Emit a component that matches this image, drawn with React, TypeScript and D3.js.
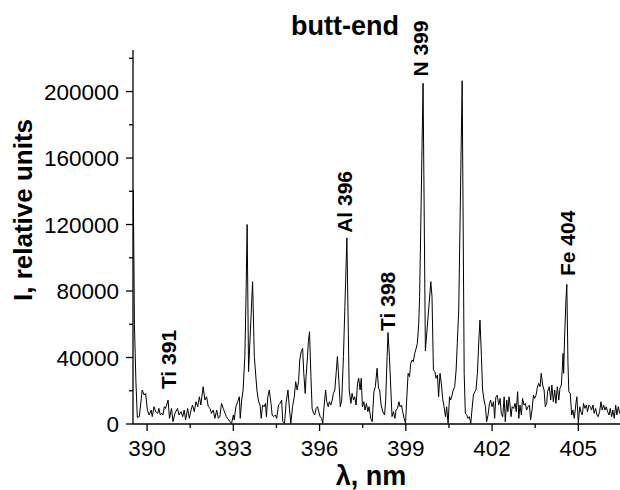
import React from "react";
import * as d3 from "d3";

const wavelength = [
  389.52, 389.56, 389.61, 389.66, 389.73, 389.83, 389.9, 389.95, 390.01, 390.07,
  390.14, 390.18, 390.24, 390.3, 390.37, 390.41, 390.46, 390.51, 390.55, 390.6,
  390.64, 390.73, 390.78, 390.85, 390.9, 390.97, 391.06, 391.11, 391.18, 391.24,
  391.29, 391.34, 391.41, 391.47, 391.53, 391.58, 391.64, 391.7, 391.76, 391.82,
  391.87, 391.95, 392.01, 392.07, 392.13, 392.19, 392.24, 392.3, 392.36, 392.42,
  392.48, 392.53, 392.59, 392.65, 392.71, 392.76, 392.88, 392.94, 393.0, 393.03,
  393.09, 393.15, 393.21, 393.24, 393.29, 393.34, 393.4, 393.44, 393.48, 393.53,
  393.67, 393.73, 393.82, 393.88, 393.93, 393.97, 394.02, 394.07, 394.12, 394.15,
  394.2, 394.25, 394.31, 394.35, 394.4, 394.46, 394.51, 394.57, 394.63, 394.68,
  394.72, 394.78, 394.84, 394.9, 394.95, 395.0, 395.06, 395.12, 395.17, 395.22,
  395.27, 395.31, 395.36, 395.41, 395.45, 395.5, 395.53, 395.58, 395.61, 395.65,
  395.7, 395.74, 395.79, 395.83, 395.88, 395.93, 395.97, 396.02, 396.07, 396.11,
  396.16, 396.21, 396.25, 396.3, 396.34, 396.39, 396.44, 396.48, 396.53, 396.58,
  396.62, 396.67, 396.72, 396.77, 396.83, 396.88, 396.95, 397.03, 397.09, 397.13,
  397.18, 397.22, 397.27, 397.32, 397.36, 397.41, 397.45, 397.49, 397.54, 397.58,
  397.63, 397.68, 397.72, 397.78, 397.83, 397.89, 397.94, 398.0, 398.05, 398.09,
  398.14, 398.2, 398.26, 398.3, 398.35, 398.38, 398.43, 398.48, 398.52, 398.57,
  398.62, 398.66, 398.71, 398.76, 398.8, 398.85, 398.89, 398.94, 398.99, 399.03,
  399.08, 399.13, 399.17, 399.22, 399.26, 399.31, 399.36, 399.4, 399.45, 399.48,
  399.6, 399.68, 399.87, 399.91, 399.96, 400.01, 400.05, 400.1, 400.14, 400.19,
  400.24, 400.28, 400.33, 400.38, 400.42, 400.47, 400.52, 400.56, 400.61, 400.65,
  400.7, 400.75, 400.79, 400.84, 400.96, 401.03, 401.07, 401.12, 401.16, 401.21,
  401.26, 401.3, 401.35, 401.4, 401.44, 401.49, 401.54, 401.58, 401.63, 401.67,
  401.72, 401.77, 401.81, 401.86, 401.91, 401.95, 402.0, 402.05, 402.09, 402.13,
  402.18, 402.23, 402.28, 402.32, 402.37, 402.42, 402.46, 402.51, 402.55, 402.59,
  402.62, 402.66, 402.7, 402.75, 402.8, 402.84, 402.89, 402.93, 402.97, 403.02,
  403.06, 403.11, 403.16, 403.2, 403.25, 403.3, 403.34, 403.39, 403.44, 403.48,
  403.53, 403.57, 403.62, 403.67, 403.71, 403.76, 403.81, 403.85, 403.9, 403.93,
  403.99, 404.04, 404.08, 404.13, 404.18, 404.22, 404.27, 404.32, 404.36, 404.41,
  404.44, 404.47, 404.49, 404.52, 404.57, 404.6, 404.64, 404.67, 404.72, 404.77,
  404.81, 404.86, 404.91, 404.95, 405.0, 405.05, 405.09, 405.14, 405.18, 405.23,
  405.28, 405.32, 405.37, 405.42, 405.46, 405.51, 405.55, 405.6, 405.65, 405.69,
  405.74, 405.79, 405.83, 405.88, 405.93, 405.97, 406.02, 406.07, 406.11, 406.16,
  406.2, 406.25, 406.3, 406.34, 406.39, 406.44, 406.48,
];

const intensity = [
  141000, 60000, 26000, 4000, 4400, 20450, 17400, 18400, 8400, 5400,
  8400, 4400, 10400, 7400, 6400, 9400, 5400, 6400, 5400, 10400,
  9400, 14400, 3400, 9400, 1400, 6400, 9400, 5400, 7400, 4400,
  8400, 2400, 9400, 3400, 8400, 11400, 7400, 13400, 10400, 16400,
  11400, 22450, 14400, 16400, 10400, 9400, 6400, 8400, 3400, 8400,
  3400, 4400, 12400, 9400, 6400, 4400, 1400, 400, 5400, 2400,
  10400, 13400, 16400, 3400, 14400, 20450, 40500, 75000, 120000, 31500,
  85600, 40500, 20450, 13400, 11400, 3400, 11400, 10400, 12400, 4400,
  16400, 20450, 12400, 5400, 4400, 5400, 3400, 11400, 12400, 14400,
  1400, 400, 13400, 20450, 9400, 400, 10400, 16400, 25500, 20450,
  25500, 38500, 43500, 45500, 30500, 18400, 28500, 40500, 49500, 55500,
  28500, 9400, 6400, 5400, 9400, 10400, 7400, 4400, 3400, 400,
  11400, 20450, 13400, 10400, 13400, 11400, 14400, 18400, 20450, 31500,
  40500, 26500, 10400, 14400, 40500, 70600, 112000, 20450, 12400, 18400,
  14400, 16400, 11400, 24450, 27500, 20450, 27500, 10400, 13400, 8400,
  12400, 7400, 10400, 3400, 1400, 19450, 22450, 33500, 21450, 20450,
  11400, 7400, 5400, 14400, 40500, 55000, 40500, 20450, 4400, 7400,
  3400, 8400, 9400, 13400, 10400, 11400, 7400, 3400, 400, 14400,
  30500, 28500, 36500, 38500, 37500, 42500, 45500, 48500, 60600, 76600,
  205000, 44000, 85600, 76600, 32500, 31500, 27500, 29500, 16400, 30500,
  23450, 15400, 10400, 4400, 10400, 400, 16400, 14400, 17400, 20450,
  22450, 32500, 48500, 68600, 206500, 30500, 6400, 5400, 3400, 4400,
  400, 8400, 17400, 19450, 20450, 30500, 50500, 62500, 40500, 20450,
  14400, 10400, 1400, 5400, 12400, 14400, 10400, 13400, 3400, 16000,
  17400, 11400, 15400, 6400, 4400, 16400, 1400, 14400, 7400, 16400,
  12400, 4400, 10400, 9400, 12400, 7400, 19450, 3400, 11400, 5400,
  15400, 11400, 12400, 8400, 10400, 11400, 2400, 8400, 17400, 15400,
  17400, 21450, 24450, 22450, 30500, 23450, 20450, 10400, 12400, 19450,
  22450, 14400, 23450, 13400, 20450, 12400, 22450, 14400, 21450, 23450,
  32500, 42500, 30500, 50500, 74600, 84000, 36500, 19450, 18400, 5400,
  8400, 3400, 11400, 16400, 400, 10400, 7400, 5400, 12400, 9400,
  11400, 7400, 11400, 10400, 8400, 11400, 6400, 9400, 5400, 4400,
  7400, 13400, 8400, 11400, 8400, 10400, 7400, 5400, 9400, 4400,
  8400, 3400, 11400, 5400, 10400, 6400, 8000,
];

const xTicks = [390, 393, 396, 399, 402, 405];
const xMinorTicks = [391.5, 394.5, 397.5, 400.5, 403.5];
const yTicks = [0, 40000, 80000, 120000, 160000, 200000];
const yMinorTicks = [20000, 60000, 100000, 140000, 180000, 220000];

const labelTexts = ["Ti 391", "Al 396", "Ti 398", "N 399", "Fe 404"];
const labelWavelengths = [391.02, 397.13, 398.63, 399.77, 404.88];
const labelIntensities = [21000, 115000, 56000, 209000, 89000];

const title = "butt-end";
const xTitle = "λ, nm";
const yTitle = "I, relative units";

const FONT = "'Liberation Sans', Arial, Helvetica, sans-serif";

export default function App() {
  const W = 620;
  const H = 490;
  const left = 133;
  const right = 620;
  const bottom = 424;
  const top = 50;

  const x = d3.scaleLinear().domain([389.51, 406.45]).range([left, right]);
  const y = d3.scaleLinear().domain([0, 225000]).range([bottom, top]);

  const pts: [number, number][] = wavelength.map((w, i) => [w, intensity[i]]);
  const line = d3
    .line<[number, number]>()
    .x((d) => x(d[0]))
    .y((d) => y(d[1]));

  return (
    <svg
      width={W}
      height={H}
      style={{ position: "absolute", left: 0, top: 0, background: "#fff" }}
      fontFamily={FONT}
    >
      <defs>
        <clipPath id="plotclip">
          <rect x={left} y={0} width={right - left} height={bottom + 1} />
        </clipPath>
      </defs>
      <rect x={0} y={0} width={W} height={H} fill="#fff" />

      <path
        d={line(pts) || ""}
        fill="none"
        stroke="#000"
        strokeWidth={1}
        clipPath="url(#plotclip)"
      />

      {/* Y axis */}
      <line x1={left} x2={left} y1={top} y2={bottom} stroke="#000" strokeWidth={1.3} />
      {yTicks.map((t) => (
        <g key={"yt" + t}>
          <line x1={left - 7} x2={left} y1={y(t)} y2={y(t)} stroke="#000" strokeWidth={1.3} />
          <text
            x={left - 14}
            y={y(t)}
            dy="0.36em"
            textAnchor="end"
            fontSize={22.5}
          >
            {t}
          </text>
        </g>
      ))}
      {yMinorTicks.map((t) => (
        <line key={"ym" + t} x1={left - 4} x2={left} y1={y(t)} y2={y(t)} stroke="#000" strokeWidth={1.3} />
      ))}

      {/* X axis */}
      <line x1={left} x2={right} y1={bottom} y2={bottom} stroke="#000" strokeWidth={1.3} />
      {xTicks.map((t) => (
        <g key={"xt" + t}>
          <line x1={x(t)} x2={x(t)} y1={bottom} y2={bottom + 7} stroke="#000" strokeWidth={1.3} />
          <text x={x(t)} y={bottom + 32} textAnchor="middle" fontSize={22.5}>
            {t}
          </text>
        </g>
      ))}
      {xMinorTicks.map((t) => (
        <line key={"xm" + t} x1={x(t)} x2={x(t)} y1={bottom} y2={bottom + 4} stroke="#000" strokeWidth={1.3} />
      ))}

      {/* Titles */}
      <text x={345} y={35} textAnchor="middle" fontSize={27} fontWeight="bold">
        {title}
      </text>
      <text x={371} y={485} textAnchor="middle" fontSize={27} fontWeight="bold">
        {xTitle}
      </text>
      <text
        transform={`translate(32,210) rotate(-90)`}
        textAnchor="middle"
        fontSize={26}
        fontWeight="bold"
      >
        {yTitle}
      </text>

      {/* Peak labels */}
      {labelTexts.map((s, i) => (
        <text
          key={s}
          transform={`translate(${x(labelWavelengths[i])},${y(labelIntensities[i])}) rotate(-90)`}
          fontSize={21}
          fontWeight="bold"
        >
          {s}
        </text>
      ))}
    </svg>
  );
}
